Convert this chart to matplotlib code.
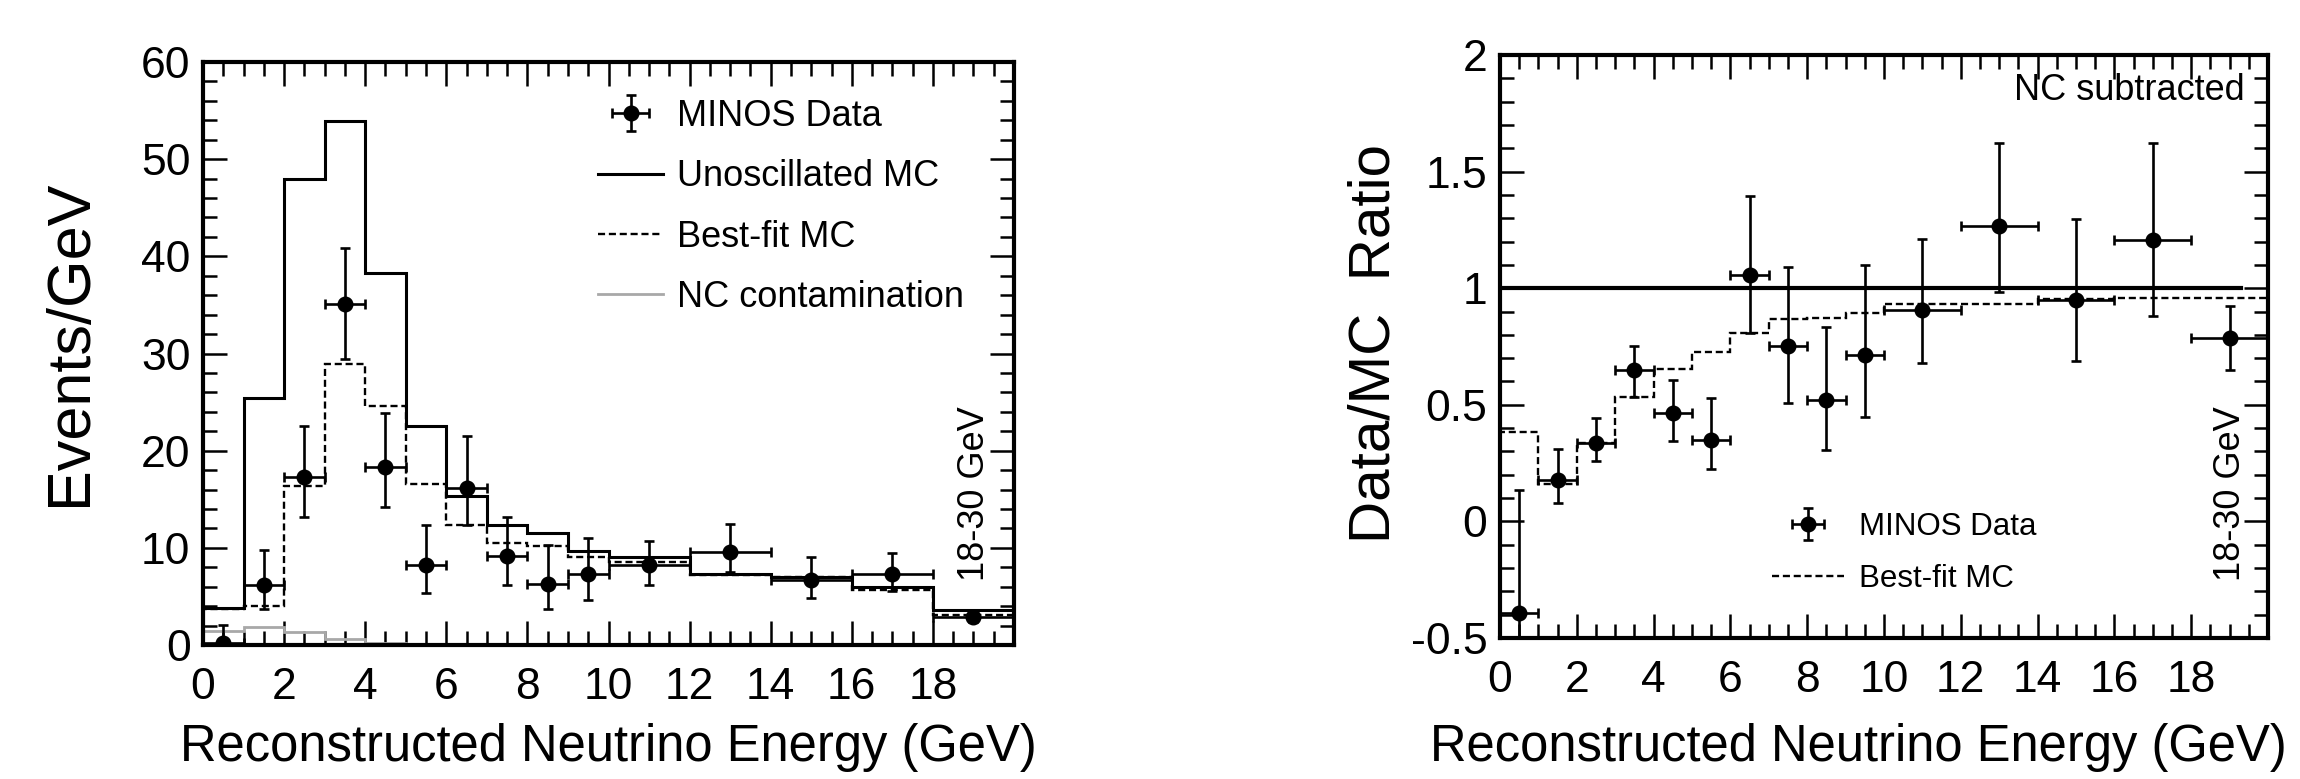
import numpy as np
import matplotlib
matplotlib.use("Agg")
import matplotlib.pyplot as plt
from matplotlib.ticker import MultipleLocator, FixedLocator
from matplotlib.lines import Line2D

plt.rcParams['font.family'] = ['Liberation Sans', 'DejaVu Sans']

# ---------------- data ----------------
# displayed bin edges (last bin 18-30 GeV is drawn compressed into 18-20)
bin_edges = [0, 1, 2, 3, 4, 5, 6, 7, 8, 9, 10, 12, 14, 16, 18, 20]

# left panel: events / GeV
unosc_mc = [3.8, 25.4, 48.0, 53.9, 38.3, 22.5, 15.3, 12.3, 11.5, 9.7, 9.1, 7.3, 7.0, 6.0, 3.6]
bestfit_mc = [3.7, 4.0, 16.4, 28.9, 24.6, 16.6, 12.3, 10.5, 10.2, 9.1, 8.5, 7.2, 7.0, 5.7, 3.1]
nc_contam = [1.4, 1.9, 1.3, 0.6, 0.2, 0.15, 0.1, 0.1, 0.1, 0.1, 0.1, 0.05, 0.05, 0.05, 0.05]

data_x = [0.5, 1.5, 2.5, 3.5, 4.5, 5.5, 6.5, 7.5, 8.5, 9.5, 11, 13, 15, 17, 19]
data_xerr = [0.5, 0.5, 0.5, 0.5, 0.5, 0.5, 0.5, 0.5, 0.5, 0.5, 1, 1, 1, 1, 1]
data_y = [0.2, 6.2, 17.3, 35.1, 18.3, 8.2, 16.2, 9.2, 6.3, 7.3, 8.2, 9.6, 6.7, 7.3, 2.85]
data_err_up = [1.9, 3.6, 5.2, 5.8, 5.6, 4.1, 5.3, 4.0, 4.0, 3.7, 2.5, 2.9, 2.4, 2.2, 0.5]
data_err_dn = [1.9, 2.5, 4.1, 5.7, 4.1, 2.8, 3.9, 3.0, 2.6, 2.7, 2.0, 2.05, 1.9, 1.7, 0.5]

# right panel: data / MC ratio (NC subtracted)
ratio_bestfit = [0.385, 0.16, 0.335, 0.535, 0.652, 0.726, 0.806, 0.866, 0.874, 0.895,
                 0.933, 0.933, 0.953, 0.96, 0.96]
ratio_y = [-0.393, 0.178, 0.338, 0.649, 0.466, 0.347, 1.058, 0.751, 0.52, 0.712,
           0.907, 1.266, 0.948, 1.207, 0.785]
ratio_err_up = [0.526, 0.132, 0.105, 0.102, 0.141, 0.183, 0.337, 0.342, 0.314, 0.386,
                0.305, 0.355, 0.348, 0.414, 0.14]
ratio_err_dn = [0.53, 0.097, 0.081, 0.116, 0.122, 0.121, 0.25, 0.243, 0.215, 0.266,
                0.229, 0.281, 0.262, 0.326, 0.136]
unity_line_x = [0, 19.3]
unity_line_y = [1, 1]

x_ticks = [0, 2, 4, 6, 8, 10, 12, 14, 16, 18]
left_y_ticks = [0, 10, 20, 30, 40, 50, 60]
right_y_ticks = [-0.5, 0, 0.5, 1, 1.5, 2]
right_y_ticklabels = ['-0.5', '0', '0.5', '1', '1.5', '2']

# ---------------- styling ----------------
W, H = 2300, 779
fig = plt.figure(figsize=(W / 100, H / 100), dpi=100)

def px_axes(x0, y0, x1, y1):
    return fig.add_axes([x0 / W, 1 - y1 / H, (x1 - x0) / W, (y1 - y0) / H])

ax1 = px_axes(203, 62, 1014, 645)
ax2 = px_axes(1500, 55, 2268, 638)

TICK_FS = 32
LABEL_FS_X = 36.5
LABEL_FS_Y = 44
DASH = (0, (3, 1.6))

def style_axes(ax, ymin, ymax, yticks, ylabels, ymin_step):
    ax.set_xlim(0, 20)
    ax.set_ylim(ymin, ymax)
    ax.set_xticks(x_ticks + [20])
    ax.set_xticklabels([str(t) for t in x_ticks] + [''])
    ax.xaxis.set_minor_locator(MultipleLocator(0.5))
    ax.set_yticks(yticks)
    ax.set_yticklabels(ylabels)
    ax.yaxis.set_minor_locator(MultipleLocator(ymin_step))
    ax.tick_params(which='both', direction='in', top=True, right=True, width=1.8,
                   color='black')
    ax.tick_params(which='major', length=17, labelsize=TICK_FS)
    ax.tick_params(which='minor', length=10)
    ax.tick_params(axis='x', which='major', pad=16)
    ax.tick_params(axis='y', which='major', pad=9)
    for s in ax.spines.values():
        s.set_linewidth(3.0)

# ---------------- left panel ----------------
style_axes(ax1, 0, 60, left_y_ticks, [str(t) for t in left_y_ticks], 2)

ax1.stairs(nc_contam, bin_edges, color='#a8a8a8', lw=2.0, zorder=2)
ax1.stairs(unosc_mc, bin_edges, color='black', lw=2.2, zorder=3)
ax1.stairs(bestfit_mc, bin_edges, color='black', lw=1.7, linestyle=DASH, zorder=3)
eb1 = ax1.errorbar(data_x, data_y, yerr=[data_err_dn, data_err_up], xerr=data_xerr,
                   fmt='o', color='black', ms=10.5, elinewidth=1.9, capsize=3.5,
                   capthick=1.9, zorder=4)

leg_handles = [eb1,
               Line2D([], [], color='black', lw=2.2),
               Line2D([], [], color='black', lw=1.7, linestyle=DASH),
               Line2D([], [], color='#a8a8a8', lw=2.0)]
leg_labels = ['MINOS Data', 'Unoscillated MC', 'Best-fit MC', 'NC contamination']
ax1.legend(leg_handles, leg_labels, loc='upper left',
           bbox_to_anchor=((598 - 203) / 811, 1 - (99 - 62) / 583),
           frameon=False, fontsize=26, borderpad=0, borderaxespad=0,
           handlelength=1.8, handletextpad=0.4, labelspacing=0.70)

ax1.text((975 - 203) / 811, 1 - (494 - 62) / 583, '18-30 GeV', rotation=90,
         transform=ax1.transAxes, ha='center', va='center', fontsize=26)

ax1.set_xlabel('Reconstructed Neutrino Energy (GeV)', fontsize=LABEL_FS_X, va='center')
ax1.xaxis.set_label_coords(0.5, -(748 - 645) / 583)
ax1.set_ylabel('Events/GeV', fontsize=LABEL_FS_Y, va='center')
ax1.yaxis.set_label_coords((71 - 203) / 811, 0.518)

# ---------------- right panel ----------------
style_axes(ax2, -0.5, 2, right_y_ticks, right_y_ticklabels, 0.1)

ax2.plot(unity_line_x, unity_line_y, color='black', lw=3.0, zorder=2)
ax2.stairs(ratio_bestfit, bin_edges, color='black', lw=1.7, linestyle=DASH, zorder=3)
eb2 = ax2.errorbar(data_x, ratio_y, yerr=[ratio_err_dn, ratio_err_up], xerr=data_xerr,
                   fmt='o', color='black', ms=10.5, elinewidth=1.9, capsize=3.5,
                   capthick=1.9, zorder=4)

ax2.legend([eb2, Line2D([], [], color='black', lw=1.7, linestyle=DASH)],
           ['MINOS Data', 'Best-fit MC'], loc='upper left',
           bbox_to_anchor=((1772 - 1500) / 768, 1 - (512 - 55) / 583),
           frameon=False, fontsize=22.5, borderpad=0, borderaxespad=0,
           handlelength=2.3, handletextpad=0.48, labelspacing=0.71)

ax2.text((2245 - 1500) / 768, 1 - (90 - 55) / 583, 'NC subtracted',
         transform=ax2.transAxes, ha='right', va='center', fontsize=26)
ax2.text((2230 - 1500) / 768, 1 - (494 - 55) / 583, '18-30 GeV', rotation=90,
         transform=ax2.transAxes, ha='center', va='center', fontsize=26)

ax2.set_xlabel('Reconstructed Neutrino Energy (GeV)', fontsize=LABEL_FS_X, va='center')
ax2.xaxis.set_label_coords((1858 - 1500) / 768, -(748 - 638) / 583)
ax2.set_ylabel('Data/MC  Ratio', fontsize=42, va='center')
ax2.yaxis.set_label_coords((1374 - 1500) / 768, 0.505)

fig.savefig('out.png', dpi=100)
